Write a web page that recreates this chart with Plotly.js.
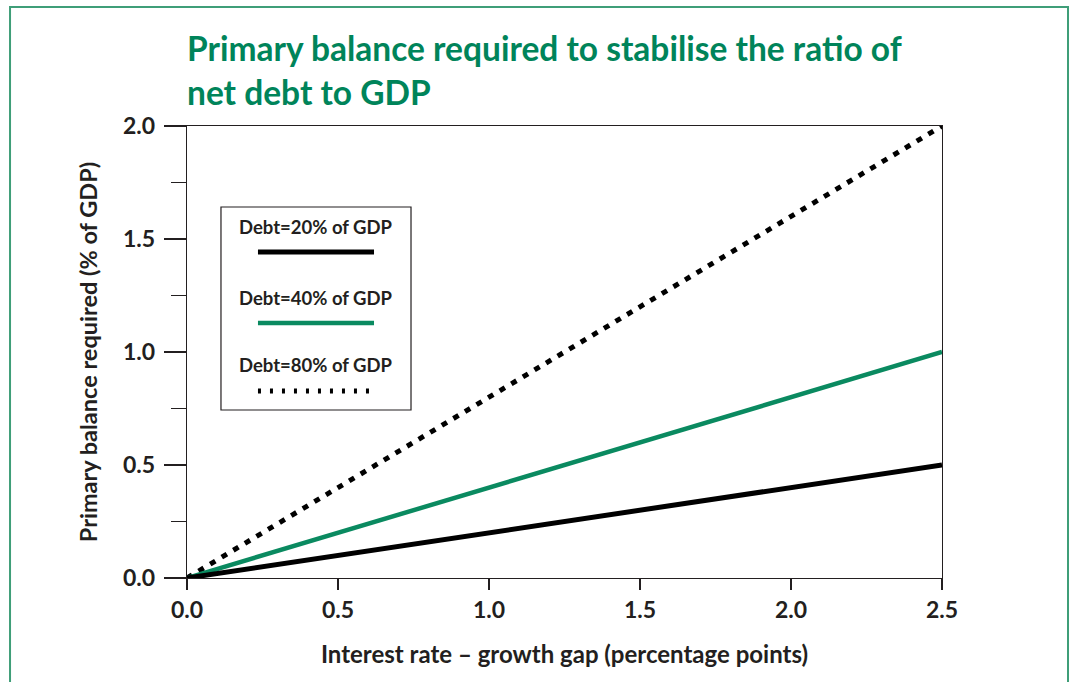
<!DOCTYPE html>
<html><head><meta charset="utf-8">
<script src="https://cdn.plot.ly/plotly-3.0.1.min.js"></script>
<style>body{margin:0;background:#fff}#chart{width:1070px;height:682px}</style>
</head><body><div id="chart"></div>
<script>
const gap = [0, 0.5, 1.0, 1.5, 2.0, 2.5];
const debt20 = [0, 0.1, 0.2, 0.3, 0.4, 0.5];
const debt40 = [0, 0.2, 0.4, 0.6, 0.8, 1.0];
const debt80 = [0, 0.4, 0.8, 1.2, 1.6, 2.0];
const seriesNames = ['Debt=20% of GDP', 'Debt=40% of GDP', 'Debt=80% of GDP'];
const xTicks = [0, 0.5, 1.0, 1.5, 2.0, 2.5];
const xTickText = ['0.0', '0.5', '1.0', '1.5', '2.0', '2.5'];
const yTicks = [0, 0.5, 1.0, 1.5, 2.0];
const yTickText = ['0.0', '0.5', '1.0', '1.5', '2.0'];

const green = '#00845a';
const ink = '#231f20';
const FONT = 'Lato, "Open Sans", sans-serif';

const traces = [
  {x: gap, y: debt80, mode: 'lines', name: seriesNames[2], line: {color: '#000', width: 5, dash: '6px,7.5px'}},
  {x: gap, y: debt40, mode: 'lines', name: seriesNames[1], line: {color: '#0a8a60', width: 4.5}},
  {x: gap, y: debt20, mode: 'lines', name: seriesNames[0], line: {color: '#000', width: 5}}
];

const legY = [[0.7765, 0.7212], [0.6195, 0.5642], [0.4712, 0.4137]];
const legStyles = [
  {color: '#000', width: 5, dash: 'solid'},
  {color: '#0a8a60', width: 4.5, dash: 'solid'},
  {color: '#000', width: 5, dash: '3px,9px'}
];
const shapes = [
  {type: 'rect', xref: 'paper', yref: 'paper', x0: 0.045, x1: 0.2967, y0: 0.3717, y1: 0.8208, line: {color: ink, width: 1.2}, fillcolor: '#fff', layer: 'below'},
  {type: 'rect', xref: 'paper', yref: 'paper', x0: -0.2344, x1: 1.1669, y0: -0.4, y1: 1.2633, line: {color: '#3f9e78', width: 2}, fillcolor: 'rgba(0,0,0,0)'}
];
const annotations = [];
seriesNames.forEach((n, i) => {
  annotations.push({xref: 'paper', yref: 'paper', x: 0.1709, y: legY[i][0], text: '<b>' + n + '</b>', showarrow: false, xanchor: 'center', yanchor: 'middle', font: {family: FONT, size: 18.5, color: ink}});
  shapes.push({type: 'line', xref: 'paper', yref: 'paper', x0: 0.094, x1: 0.2477, y0: legY[i][1], y1: legY[i][1], line: legStyles[i]});
});

const layout = {
  width: 1070, height: 682,
  margin: {l: 187, r: 128, t: 126, b: 104},
  paper_bgcolor: '#fff', plot_bgcolor: 'rgba(0,0,0,0)',
  showlegend: false,
  font: {family: FONT, color: ink},
  title: {
    text: '<b>Primary balance required to stabilise the ratio of<br>net debt to GDP</b>',
    x: 187/1070, xanchor: 'left', xref: 'container',
    y: 1 - 61/682, yanchor: 'top', yref: 'container',
    font: {family: FONT, size: 33.5, color: green}
  },
  xaxis: {
    range: [0, 2.5], tickvals: xTicks, ticktext: xTickText,
    ticks: 'outside', ticklen: 11, tickwidth: 1.2, tickcolor: ink,
    showline: true, linecolor: ink, linewidth: 1.2, mirror: true,
    showgrid: false, zeroline: false,
    tickfont: {family: FONT, size: 23, color: ink, weight: 'bold'},
    ticklabelstandoff: 0,
    title: {text: '<b>Interest rate – growth gap (percentage points)</b>', font: {family: FONT, size: 24, color: ink}, standoff: 24}
  },
  yaxis: {
    range: [0, 2], tickvals: yTicks, ticktext: yTickText,
    ticks: 'outside', ticklen: 22, tickwidth: 1.2, tickcolor: ink,
    minor: {dtick: 0.25, tick0: 0, ticks: 'outside', ticklen: 15, tickwidth: 1.2, tickcolor: ink, showgrid: false},
    showline: true, linecolor: ink, linewidth: 1.2, mirror: true,
    showgrid: false, zeroline: false,
    tickfont: {family: FONT, size: 23, color: ink, weight: 'bold'},
    ticklabelstandoff: 4,
    title: {text: '<b>Primary balance required (% of GDP)</b>', font: {family: FONT, size: 23.5, color: ink}, standoff: 18}
  },
  shapes: shapes,
  annotations: annotations
};

Plotly.newPlot('chart', traces, layout, {displayModeBar: false, staticPlot: true});
</script>
</body></html>
